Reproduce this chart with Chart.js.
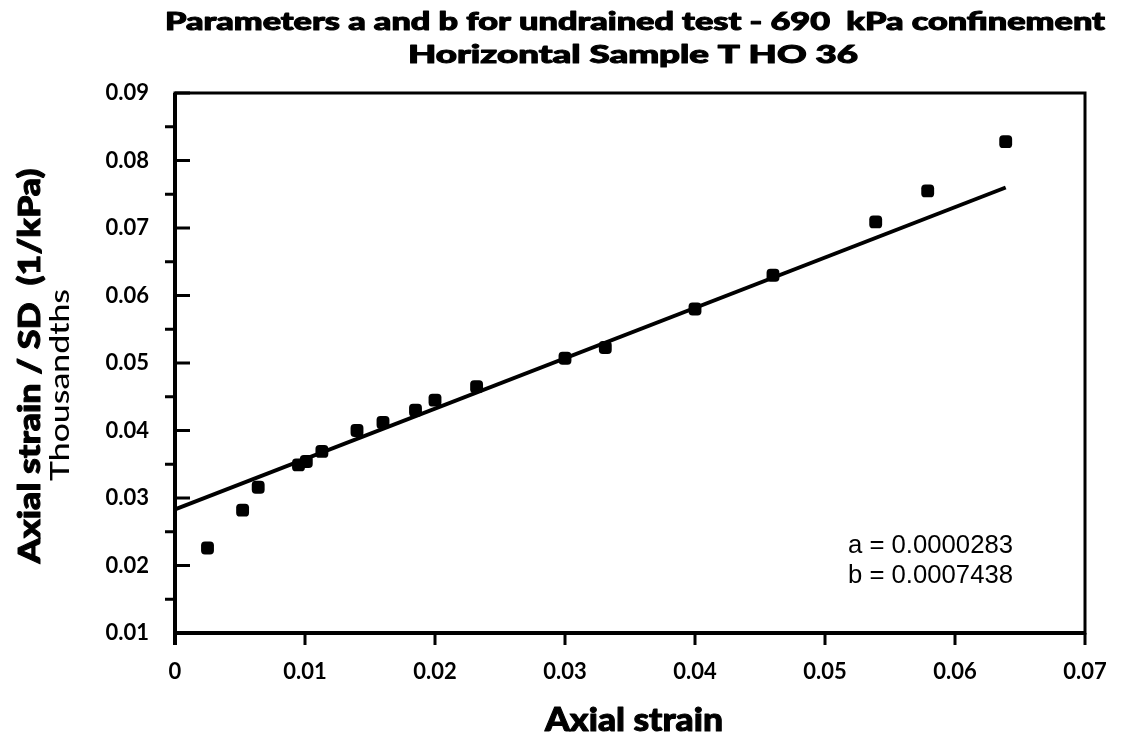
<!DOCTYPE html>
<html>
<head>
<meta charset="utf-8">
<script src="https://cdn.jsdelivr.net/npm/chart.js@4"></script>
<style>
  html, body { margin: 0; padding: 0; background: #fff; }
  #wrap { width: 1121px; height: 739px; }
</style>
</head>
<body>
<div id="wrap"><canvas id="chart" width="1121" height="739"></canvas></div>
<script>
'use strict';

// measured points (axial strain vs axial strain / SD, thousandths)
const strain = [0.0025, 0.0052, 0.0064, 0.0095, 0.0101, 0.0113, 0.0140, 0.0160, 0.0185,
  0.0200, 0.0232, 0.0300, 0.0331, 0.0400, 0.0460, 0.0539, 0.0579, 0.0639];
const ratio = [0.0226, 0.0282, 0.0316, 0.0349, 0.0354, 0.0369, 0.0400, 0.0412, 0.0430,
  0.0445, 0.0465, 0.0507, 0.0523, 0.0580, 0.0630, 0.0709, 0.0755, 0.0828];

// fitted straight line, end points
const fitX = [0, 0.0639];
const fitY = [0.0283, 0.0760];

const xTicks = [0, 0.01, 0.02, 0.03, 0.04, 0.05, 0.06, 0.07];
const yTicks = [0.01, 0.02, 0.03, 0.04, 0.05, 0.06, 0.07, 0.08, 0.09];
const titleLines = ['Parameters a and b for undrained test - 690  kPa confinement', 'Horizontal Sample T HO 36'];
const yTitle = ['Axial strain / SD  (1/kPa)', 'Thousandths'];
const xTitle = 'Axial strain';
const notes = ['a = 0.0000283', 'b = 0.0007438'];

const FONT = 'Lato, "Open Sans", sans-serif';

// draw text squeezed/stretched to a given width, optional outline to make it heavier
function fitText(ctx, text, x, y, w, align, heavy) {
  const m = ctx.measureText(text).width;
  ctx.save();
  ctx.translate(x, y);
  ctx.scale(w / m, 1);
  ctx.textAlign = align;
  ctx.fillText(text, 0, 0);
  if (heavy) {
    ctx.lineWidth = heavy;
    ctx.lineJoin = 'round';
    ctx.strokeText(text, 0, 0);
  }
  ctx.restore();
}

// frame, ticks and all the free text
const decor = {
  id: 'decor',
  afterDraw(chart) {
    const ctx = chart.ctx;
    const a = chart.chartArea;
    const xs = chart.scales.x, ys = chart.scales.y;
    ctx.save();
    ctx.strokeStyle = '#000';
    ctx.lineCap = 'butt';

    // frame
    ctx.lineWidth = 3;
    ctx.strokeRect(a.left, a.top, a.right - a.left, a.bottom - a.top);
    ctx.lineWidth = 4;
    ctx.beginPath();
    ctx.moveTo(a.left, a.top); ctx.lineTo(a.left, a.bottom + 12);
    ctx.moveTo(a.left, a.bottom); ctx.lineTo(a.right, a.bottom);
    ctx.stroke();

    // y ticks: major inward, minor outward
    ctx.lineWidth = 3;
    ctx.beginPath();
    yTicks.forEach(function (v, i) {
      const py = ys.getPixelForValue(v);
      ctx.moveTo(a.left, py); ctx.lineTo(a.left + 15, py);
      if (i < yTicks.length - 1) {
        const pm = ys.getPixelForValue(v + 0.005);
        ctx.moveTo(a.left, pm); ctx.lineTo(a.left - 10, pm);
      }
    });
    // x ticks downward
    xTicks.forEach(function (v) {
      const px = xs.getPixelForValue(v);
      ctx.moveTo(px, a.bottom); ctx.lineTo(px, a.bottom + 12);
    });
    ctx.stroke();

    ctx.fillStyle = '#000';
    ctx.textBaseline = 'alphabetic';

    // title
    ctx.font = '900 24px ' + FONT;
    fitText(ctx, titleLines[0], 635, 30, 940, 'center', 1);
    fitText(ctx, titleLines[1], 633, 63, 450, 'center', 1);

    // x axis title
    ctx.font = '900 32px ' + FONT;
    fitText(ctx, xTitle, 634, 731, 178, 'center', 1);

    // y axis title
    ctx.save();
    ctx.translate(40, 366);
    ctx.rotate(-Math.PI / 2);
    ctx.font = '900 31px ' + FONT;
    fitText(ctx, yTitle[0], 0, 0, 395, 'center', 1);
    ctx.font = '500 27px ' + FONT;
    fitText(ctx, yTitle[1], -19, 29, 192, 'center');
    ctx.restore();

    // a, b values
    ctx.font = '26px "Liberation Sans", Arial, sans-serif';
    fitText(ctx, notes[0], 848, 553, 165, 'left');
    fitText(ctx, notes[1], 848, 583, 165, 'left');
    ctx.restore();
  }
};

new Chart(document.getElementById('chart').getContext('2d'), {
  type: 'scatter',
  data: {
    datasets: [{
      label: 'data',
      data: strain.map(function (x, i) { return { x: x, y: ratio[i] }; }),
      pointStyle: 'rectRounded',
      pointRadius: 7.5,
      pointHoverRadius: 7.5,
      backgroundColor: '#000',
      borderColor: '#000',
      borderWidth: 0
    }, {
      label: 'fit',
      type: 'line',
      data: fitX.map(function (x, i) { return { x: x, y: fitY[i] }; }),
      borderColor: '#000',
      borderWidth: 4,
      pointRadius: 0,
      fill: false
    }]
  },
  options: {
    responsive: false,
    animation: false,
    layout: { padding: { top: 93, right: 36, left: 0, bottom: 0 } },
    plugins: {
      legend: { display: false },
      title: { display: false },
      tooltip: { enabled: false }
    },
    scales: {
      x: {
        type: 'linear',
        min: 0, max: 0.07,
        afterFit: function (s) { s.height = 106; s.paddingLeft = 0; s.paddingRight = 0; },
        afterBuildTicks: function (s) { s.ticks = xTicks.map(function (v) { return { value: v }; }); },
        grid: { display: false, drawTicks: false },
        border: { display: false },
        ticks: {
          padding: 26,
          color: '#000',
          font: { family: FONT, size: 22, weight: 'bold' },
          maxRotation: 0,
          callback: function (v) { return v === 0 ? '0' : v.toFixed(2); }
        }
      },
      y: {
        type: 'linear',
        min: 0.01, max: 0.09,
        afterFit: function (s) { s.width = 175; s.paddingTop = 0; s.paddingBottom = 0; },
        afterBuildTicks: function (s) { s.ticks = yTicks.map(function (v) { return { value: v }; }); },
        grid: { display: false, drawTicks: false },
        border: { display: false },
        ticks: {
          padding: 26,
          color: '#000',
          font: { family: FONT, size: 22, weight: 'bold' },
          callback: function (v) { return v.toFixed(2); }
        }
      }
    }
  },
  plugins: [decor]
});
</script>
</body>
</html>
